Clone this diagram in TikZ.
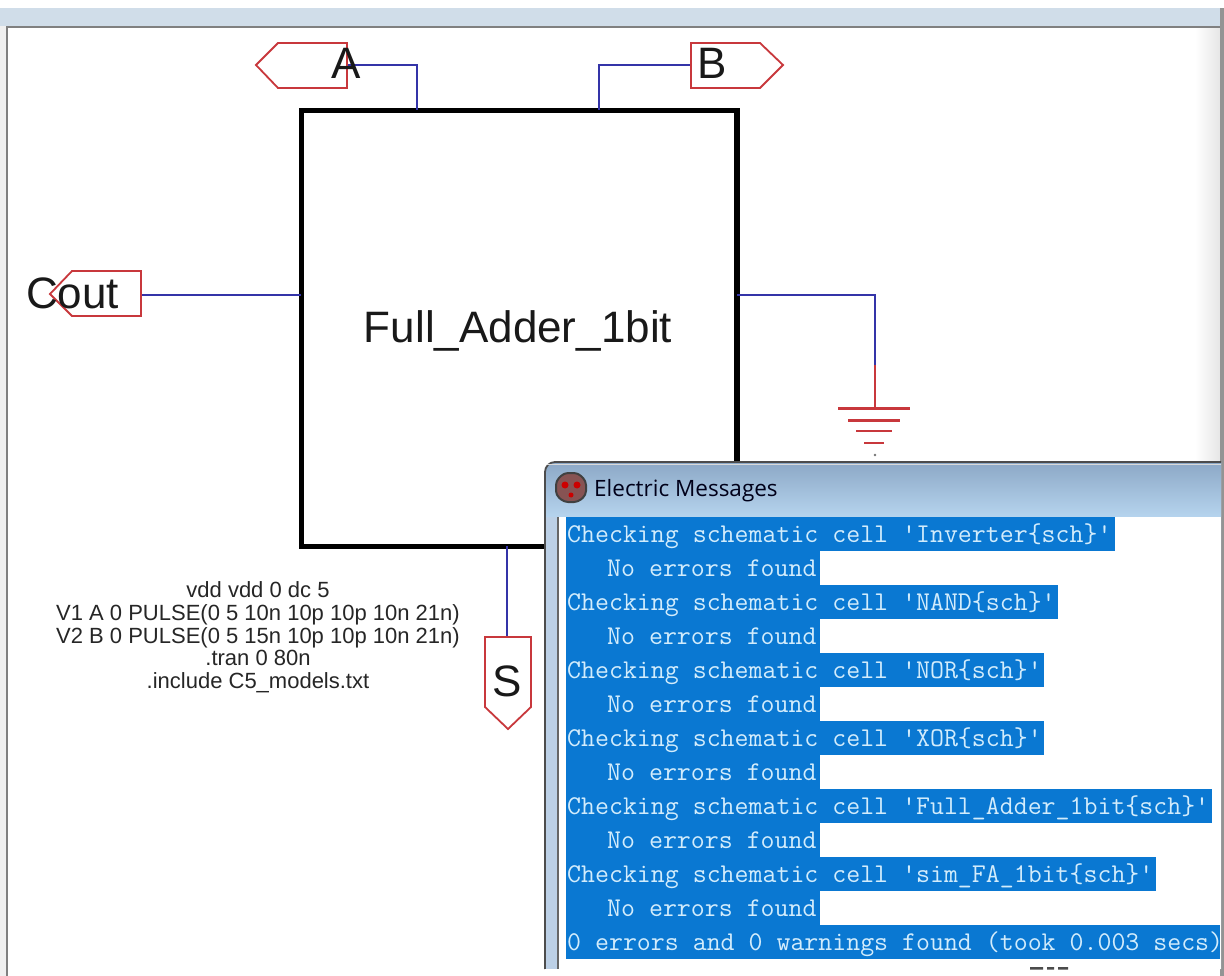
\documentclass[tikz,border=0pt]{standalone}
\usepackage{fontspec}
\setmainfont{Liberation Sans}
\newfontfamily\titlef{Open Sans}
\definecolor{wireblue}{HTML}{3434A8}
\definecolor{tagred}{HTML}{C8383C}
\definecolor{hilite}{HTML}{0A78D2}
\definecolor{hitext}{HTML}{D2ECFC}
\definecolor{topbar}{HTML}{D0DDE9}
\definecolor{titletop}{HTML}{8CA8C6}
\definecolor{titlebot}{HTML}{B6D4EE}
\definecolor{winside}{HTML}{BCD0E6}
\tikzset{
  wire/.style={draw=wireblue,line width=2pt},
  tag/.style={draw=tagred,line width=1.8pt,line join=miter},
  gnd/.style={draw=tagred,line width=2.4pt},
  pinlabel/.style={font=\fontsize{44}{44}\selectfont,text=black!90,inner sep=0pt},
  spice/.style={font=\fontsize{22}{22.7}\selectfont,text=black!85,align=center,inner sep=0pt},
  msg/.style={font=\ttfamily\fontsize{27.1}{27.1}\selectfont,text=hitext,anchor=base west,inner sep=0pt},
}
\newcommand{\hl}[3]{\fill[hilite] (566,#1) rectangle (#2,#3);}
\newcommand{\sq}{\textquotesingle}
\begin{document}
\begin{tikzpicture}[x=1pt,y=-1pt]
\useasboundingbox (0,0) rectangle (1224,976);
% surroundings
\fill[white] (0,0) rectangle (1224,976);
\fill[topbar] (0,8) rectangle (1224,26);
\fill[black!6] (0,26) rectangle (7,976);
\shade[left color=white,right color=black!10] (1195,28) rectangle (1220,976);
\fill[black!42] (1220,8) rectangle (1224,976);
\draw[black!50,line width=1.8pt] (7,976) -- (7,27) -- (1220,27);
% block
\node[draw=black,line width=5.5pt,minimum width=435.5pt,minimum height=436pt,inner sep=0pt] (fa) at (519.2,328.5) {};
\node[font=\fontsize{44}{44}\selectfont,text=black!90,inner sep=0pt] (falabel) at (518,330.5) {Full\_Adder\_1bit};
% ports and tag anchors
\coordinate (pa) at (417,110);
\coordinate (pb) at (599,110);
\coordinate (pc) at (301,295);
\coordinate (pg) at (737,295);
\coordinate (ps) at (507,546);
\coordinate (ta) at (347,65);
\coordinate (tb) at (691,65);
\coordinate (tc) at (141,295);
\coordinate (ts) at (507,637);
\coordinate (gc) at (875,295);
\coordinate (gm) at (875,365);
\coordinate (gt) at (875,408);
% wires
\draw[wire] (ta) -| (pa);
\draw[wire] (tb) -| (pb);
\draw[wire] (tc) -- (pc);
\draw[wire] (pg) -- (gc) -- (gm);
\draw[wire] (ps) -- (ts);
% tags
\draw[tag] (256,65) -- (278,43) -- (347,43) -- (347,88) -- (278,88) -- cycle;
\draw[tag] (691,43) -- (760,43) -- (783,65) -- (760,88) -- (691,88) -- cycle;
\draw[tag] (50,294) -- (72,271) -- (141,271) -- (141,316) -- (72,316) -- cycle;
\draw[tag] (485,637) -- (531,637) -- (531,707) -- (508,729) -- (485,707) -- cycle;
\node[pinlabel] (la) at (346,63) {A};
\node[pinlabel] (lb) at (712,63) {B};
\node[pinlabel] (lc) at (72.5,293) {Cout};
\node[pinlabel] (ls) at (507,681) {S};
% ground
\draw[gnd,line width=2pt] (gm) -- (gt);
\draw[gnd] (838,408.5) -- (910,408.5);
\draw[gnd] (848,420.5) -- (900,420.5);
\draw[gnd] (856,431) -- (892,431);
\draw[gnd] (864,443) -- (884,443);
\fill[black!55] (875,455) circle (1.3pt);
% spice directives
\node[spice] (sp) at (258,637.5) {vdd vdd 0 dc 5\\V1 A 0 PULSE(0 5 10n 10p 10p 10n 21n)\\V2 B 0 PULSE(0 5 15n 10p 10p 10n 21n)\\.tran 0 80n\\.include C5\_models.txt};
% messages window
\fill[winside] (545,969) -- (545,472) arc (180:270:10) -- (1221,462) -- (1221,969) -- cycle;
\shade[top color=titletop,bottom color=titlebot] (545,472) arc (180:270:10) -- (1221,462) -- (1221,517) -- (545,517) -- cycle;
\draw[black!70,line width=1.8pt] (545,969) -- (545,472) arc (180:270:10) -- (1221,462);
\draw[white!85!black,line width=1pt] (547,464) -- (1221,464);
\fill[white] (558,517) rectangle (1221,969);
\fill[white] (545,969) rectangle (1220,976);
\fill[black!60] (557,517) rectangle (558.5,969);
% icon
\draw[black!75,fill=black!42!red!35!gray,line width=2pt,rounded corners=4pt]
  (564,473) -- (578,473) -- (586,481) -- (586,495) -- (578,502) -- (564,502) -- (556,495) -- (556,481) -- cycle;
\fill[red!80!black] (565,485) circle (3.5pt) (577,485) circle (3.5pt) (571,495) circle (2.5pt);
\node[font=\titlef\fontsize{22.5}{22.5}\selectfont,text=black!90!blue,anchor=base west,inner sep=0pt] (title) at (594,496) {Electric Messages};
% highlights
\hl{517}{1115}{551}
\hl{551}{820}{585}
\hl{585}{1058}{619}
\hl{619}{820}{653}
\hl{653}{1044}{687}
\hl{687}{820}{721}
\hl{721}{1044}{755}
\hl{755}{820}{789}
\hl{789}{1212}{823}
\hl{823}{820}{857}
\hl{857}{1156}{891}
\hl{891}{820}{925}
\hl{925}{1220}{959}
\node[msg] (m1) at (567,542) {Checking schematic cell \sq Inverter\{sch\}\sq};
\node[msg] (m2) at (607,576) {No errors found};
\node[msg] (m3) at (567,610) {Checking schematic cell \sq NAND\{sch\}\sq};
\node[msg] (m4) at (607,644) {No errors found};
\node[msg] (m5) at (567,678) {Checking schematic cell \sq NOR\{sch\}\sq};
\node[msg] (m6) at (607,712) {No errors found};
\node[msg] (m7) at (567,746) {Checking schematic cell \sq XOR\{sch\}\sq};
\node[msg] (m8) at (607,780) {No errors found};
\node[msg] (m9) at (567,814) {Checking schematic cell \sq Full\_Adder\_1bit\{sch\}\sq};
\node[msg] (m10) at (607,848) {No errors found};
\node[msg] (m11) at (567,882) {Checking schematic cell \sq sim\_FA\_1bit\{sch\}\sq};
\node[msg] (m12) at (607,916) {No errors found};
\node[msg] (m13) at (567,950) {0 errors and 0 warnings found (took 0.003 secs)};
% clipped tops of the next line
\fill[black!70] (1030,967) rectangle (1043,969.5) (1047,967) rectangle (1054,969.5) (1058,967) rectangle (1068,969.5);
\end{tikzpicture}
\end{document}
